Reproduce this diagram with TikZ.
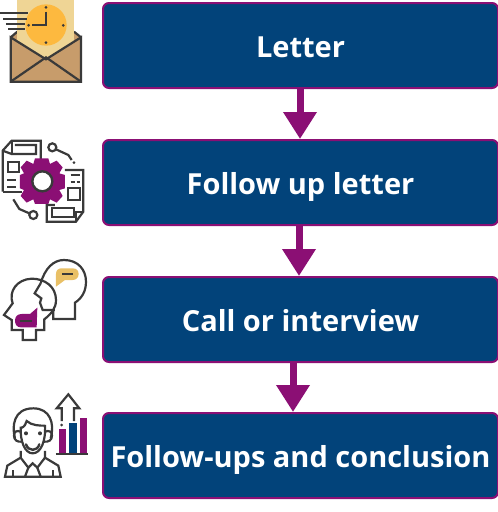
\documentclass[tikz,border=0pt]{standalone}
\usepackage{fontspec}
\setmainfont{Open Sans}
\usetikzlibrary{arrows.meta}
\definecolor{boxblue}{HTML}{02437A}
\definecolor{plum}{HTML}{8B0F74}
\definecolor{ink}{HTML}{3A3A3A}
\definecolor{paper}{HTML}{EFD595}
\definecolor{clockc}{HTML}{FDB93F}
\definecolor{kraft}{HTML}{C79C6B}
\definecolor{bubble}{HTML}{E9C066}
\tikzset{
  stage/.style={draw=plum,line width=2pt,fill=boxblue,rounded corners=6pt,minimum width=395pt,minimum height=85pt,
    text=white,font=\bfseries\fontsize{29}{32}\selectfont,inner sep=0pt,anchor=north west,text height=24pt,text depth=0pt},
  flow/.style={draw=plum,line width=7pt,-{Triangle[width=32pt,length=27pt]}},
  icon/.style={x=0.3333pt,y=-0.3333pt},
  inkline/.style={draw=ink,line width=2.2pt,line join=miter},
}
\begin{document}
\begin{tikzpicture}[x=1pt,y=-1pt]
\useasboundingbox (0,0) rectangle (498,512);
\node[stage] (s1) at (102,2) {Letter};
\node[stage] (s2) at (102,139) {Follow up letter};
\node[stage] (s3) at (102,276) {Call or interview};
\node[stage] (s4) at (102,412) {Follow-ups and conclusion};
\coordinate (xa) at (300,0);
\coordinate (xb) at (299,0);
\coordinate (xc) at (293,0);
\draw[flow] (s1.south -| xa) -- (s2.north -| xa);
\draw[flow] (s2.south -| xb) -- (s3.north -| xb);
\draw[flow] (s3.south -| xc) -- (s4.north -| xc);

% envelope
\begin{scope}[shift={(0,0)},icon]
\fill[kraft] (32,112) -- (52,95) -- (222,95) -- (243,112) -- (243,245) -- (32,245) -- cycle;
\draw[inkline] (32,112) -- (52,95) (222,95) -- (243,112);
\fill[paper] (52,0) rectangle (222,180);
\fill[clockc] (138,75) circle (62);
\foreach \p in {(138,22),(86,76),(190,76),(138,128)} \fill[ink] \p circle (4.5);
\draw[inkline] (138,35) -- (138,76) -- (96,76);
\draw[inkline] (0,40) -- (85,40) (10,56) -- (80,56) (18,72) -- (75,72) (25,88) -- (75,88);
\fill[kraft] (32,112) -- (138,178) -- (243,112) -- (243,245) -- (32,245) -- cycle;
\draw[inkline] (32,112) -- (138,178) -- (243,112) -- (243,245) -- (32,245) -- cycle;
\draw[inkline] (32,245) -- (138,172) -- (243,245);
\end{scope}

% documents and gear
\begin{scope}[shift={(0,130)},icon]
\draw[inkline] (8,185) -- (8,62) -- (35,32) -- (122,32) -- (122,95);
\draw[inkline] (8,185) -- (65,185);
\draw[inkline] (8,62) -- (35,72) -- (108,72) -- (108,45) -- (45,45);
\draw[inkline] (35,32) -- (35,72);
\draw[inkline] (25,95) rectangle (58,125);
\draw[inkline] (22,150) -- (48,150) (22,170) -- (48,170);
\draw[inkline] (195,120) -- (250,120) -- (250,245) -- (228,275) -- (140,275) -- (140,225) -- (165,225);
\draw[inkline] (228,275) -- (228,245) -- (250,245);
\draw[inkline] (155,235) -- (222,235) -- (222,262) -- (155,262) -- cycle;
\draw[inkline] (212,135) -- (240,135) (212,155) -- (224,155) (230,155) -- (240,155);
\draw[inkline] (205,175) rectangle (240,210);
\fill[plum] (105,85) -- (145,85) -- (150,102) -- (170,92) -- (188,112) -- (178,130) -- (195,135) -- (195,175) -- (178,180) -- (188,198) -- (170,218) -- (150,208) -- (145,222) -- (105,222) -- (100,208) -- (80,218) -- (62,198) -- (72,180) -- (60,175) -- (60,135) -- (72,130) -- (62,112) -- (80,92) -- (100,102) -- cycle;
\draw[draw=ink,line width=2.4pt,fill=white] (127,154) circle (30);
\draw[inkline] (157,52) circle (12);
\draw[inkline] (168,58) -- (205,75) -- (215,90);
\fill[ink] (222,98) circle (4.5);
\draw[inkline] (100,255) circle (12);
\draw[inkline] (88,250) -- (58,237) -- (40,208);
\end{scope}

% heads
\begin{scope}[shift={(0,250)},icon]
\draw[inkline] (122,100) .. controls (135,55) and (160,30) .. (192,30) .. controls (235,30) and (258,60) .. (258,95) .. controls (258,125) and (245,145) .. (225,158) -- (225,207) -- (160,207) -- (160,182);
\draw[inkline] (122,100) -- (104,130) -- (124,145) -- (120,158) -- (128,180) -- (165,180);
\fill[bubble] (168,110) -- (168,72) .. controls (168,60) and (175,55) .. (185,55) -- (218,55) .. controls (230,55) and (236,62) .. (236,72) .. controls (236,83) and (228,90) .. (218,90) -- (195,90) -- cycle;
\draw[inkline] (187,72) -- (220,72);
\draw[inkline] (38,160) .. controls (25,125) and (50,88) .. (95,86) .. controls (135,86) and (168,110) .. (168,150) .. controls (168,175) and (155,190) .. (133,208) -- (133,240) -- (108,240) -- (108,270) -- (68,270) -- (68,240) -- (35,240) -- (35,210) -- (12,195) -- cycle;
\fill[plum] (112,173) -- (110,232) -- (62,232) .. controls (50,232) and (45,222) .. (45,212) .. controls (45,200) and (52,192) .. (65,192) -- (90,192) -- cycle;
\draw[inkline] (60,213) -- (95,213);
\end{scope}

% person and chart
\begin{scope}[shift={(0,385)},icon]
\draw[inkline] (45,160) .. controls (35,125) and (40,70) .. (100,70) .. controls (150,70) and (165,115) .. (152,160);
\draw[inkline] (62,130) .. controls (75,125) and (78,115) .. (80,108) .. controls (95,122) and (120,122) .. (135,122);
\draw[inkline] (62,125) .. controls (60,170) and (75,205) .. (98,205) .. controls (122,205) and (138,170) .. (135,120);
\draw[inkline] (62,140) .. controls (50,135) and (42,140) .. (42,152) .. controls (42,165) and (52,172) .. (65,170);
\draw[inkline] (135,140) .. controls (148,135) and (156,140) .. (156,152) .. controls (156,165) and (146,172) .. (132,170);
\fill[ink] (78,145) circle (6) (120,145) circle (6);
\draw[draw=ink,line width=2.4pt,line cap=round] (78,178) .. controls (85,200) and (112,200) .. (118,178);
\draw[inkline] (62,198) -- (62,218) -- (22,242) -- (15,275) -- (182,275) -- (175,242) -- (135,218) -- (135,198);
\draw[inkline] (62,218) -- (85,248) -- (98,235) -- (112,248) -- (135,218);
\draw[inkline] (85,248) -- (75,275) (112,248) -- (122,275);
\draw[inkline] (40,275) -- (40,255) (158,275) -- (158,255);
\fill[plum] (177,133) rectangle (198,205);
\fill[boxblue] (208,115) rectangle (230,205);
\fill[plum] (240,100) rectangle (262,205);
\draw[inkline] (168,208) -- (265,208);
\draw[inkline] (185,108) -- (185,70) -- (170,70) -- (205,28) -- (238,70) -- (222,70) -- (222,108);
\fill[ink] (185,120) circle (4.5);
\end{scope}
\end{tikzpicture}
\end{document}
